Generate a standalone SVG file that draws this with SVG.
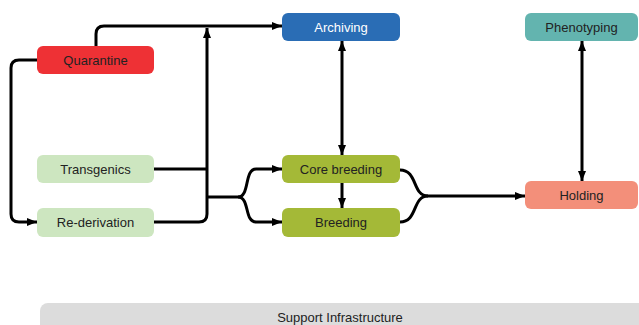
<svg xmlns="http://www.w3.org/2000/svg" width="639" height="325" viewBox="0 0 639 325">
<style>
text{font-family:"Liberation Sans",Arial,sans-serif;font-size:13px;fill:#222;text-anchor:middle;dominant-baseline:central}
.c{fill:none;stroke:#000;stroke-width:3;stroke-linecap:butt;stroke-linejoin:round}
.a{marker-end:url(#ah)}
.b{marker-start:url(#ah);marker-end:url(#ah)}
</style>
<defs>
<marker id="ah" viewBox="0 0 10 8" refX="10" refY="4" markerWidth="10" markerHeight="8" markerUnits="userSpaceOnUse" orient="auto-start-reverse">
<path d="M0,0 L10,4 L0,8 Z" fill="#000"/>
</marker>
</defs>
<g id="connectors">
<path class="c a" d="M96,46 V34 Q96,26 104,26 H282"/>
<path class="c a" d="M37,60 H19 Q11,60 11,68 V214 Q11,222 19,222 H37"/>
<path class="c a" d="M154,222 H199 Q207,222 207,214 V28"/>
<path class="c" d="M154,169 H207"/>
<path class="c a" d="M207,197 H238 C250,197 244,169 256,169 H282"/>
<path class="c a" d="M238,197 C250,197 244,222 256,222 H282"/>
<path class="c b" d="M342,41 V155"/>
<path class="c a" d="M342,183 V208"/>
<path class="c a" d="M400,170 C418,170 412,196 428,196 H525"/>
<path class="c" d="M400,222 C418,222 412,196 428,196"/>
<path class="c b" d="M582,41 V181"/>
</g>
<g id="quarantine"><rect x="37" y="46" width="117" height="28" rx="6" fill="#ee3135"/><text x="95.5" y="60">Quarantine</text></g>
<g id="transgenics"><rect x="37" y="155" width="117" height="28" rx="6" fill="#cde6c0"/><text x="95.5" y="169">Transgenics</text></g>
<g id="rederivation"><rect x="37" y="208" width="117" height="29" rx="6" fill="#cde6c0"/><text x="95.5" y="222">Re-derivation</text></g>
<g id="archiving"><rect x="282" y="13" width="118" height="28" rx="6" fill="#2a6db5"/><text x="341" y="27" style="fill:#fff">Archiving</text></g>
<g id="corebreeding"><rect x="282" y="155" width="118" height="28" rx="6" fill="#a4b937"/><text x="341" y="169">Core breeding</text></g>
<g id="breeding"><rect x="282" y="208" width="118" height="29" rx="6" fill="#a4b937"/><text x="341" y="222">Breeding</text></g>
<g id="phenotyping"><rect x="525" y="13" width="113" height="28" rx="6" fill="#63b4af"/><text x="581.5" y="27">Phenotyping</text></g>
<g id="holding"><rect x="525" y="181" width="113" height="28" rx="6" fill="#f38f7a"/><text x="581.5" y="195">Holding</text></g>
<g id="support"><rect x="40" y="303" width="620" height="40" rx="8" fill="#dcdcdc"/><text x="340" y="317">Support Infrastructure</text></g>
</svg>
